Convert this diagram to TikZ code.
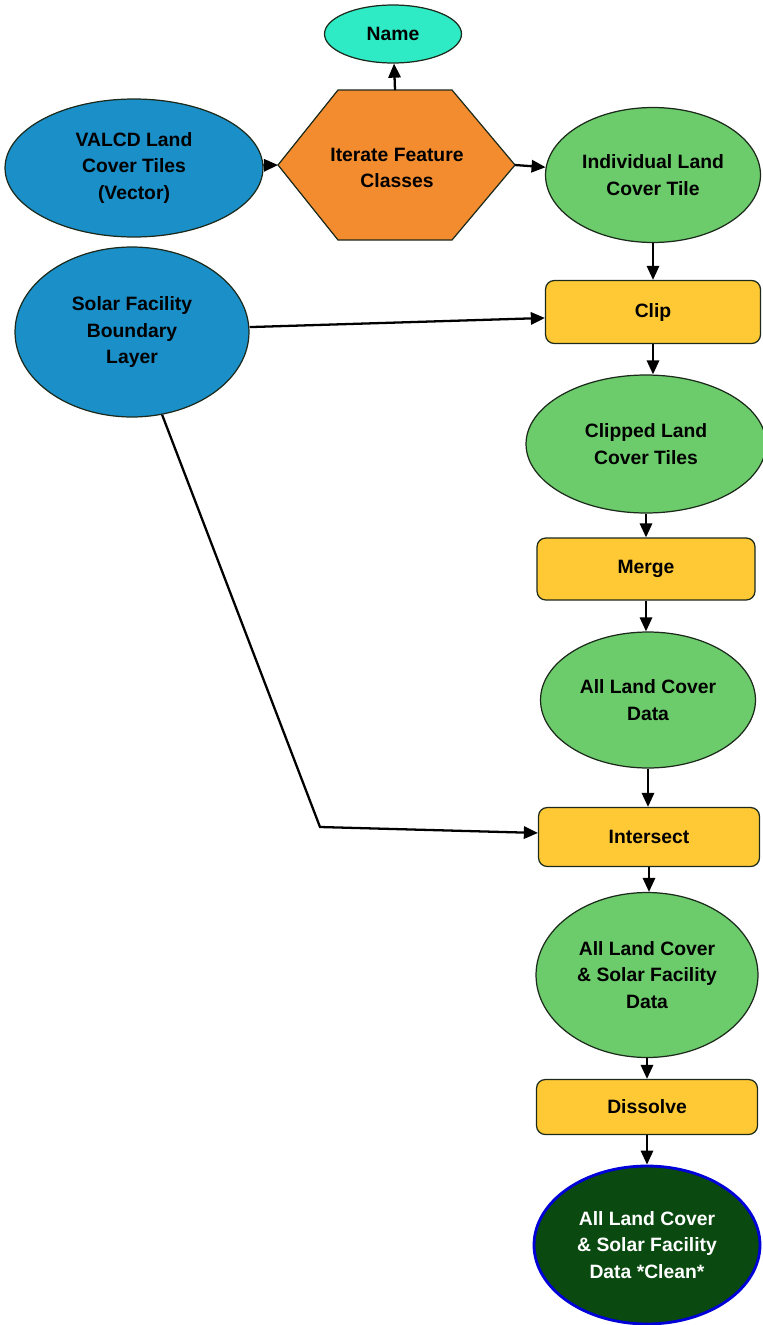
\documentclass[tikz,border=0pt]{standalone}
\usepackage{fontspec}
\setmainfont{Liberation Sans}
\usetikzlibrary{arrows.meta,positioning,shapes.geometric}
\definecolor{mdBlue}{HTML}{1A8FC8}
\definecolor{mdGreen}{HTML}{6CCB6A}
\definecolor{mdCyan}{HTML}{2EEBC6}
\definecolor{mdOrange}{HTML}{F38B2F}
\definecolor{mdYellow}{HTML}{FFC935}
\definecolor{mdDark}{HTML}{0A4A10}
\definecolor{mdEdge}{HTML}{1C2A1C}
\begin{document}
\begin{tikzpicture}[x=0.02cm, y=-0.02cm,
  dat/.style={ellipse, draw=mdEdge, line width=0.7pt, inner sep=0pt, align=center, font=\fontsize{11}{15}\selectfont\bfseries},
  inp/.style={dat, fill=mdBlue},
  mid/.style={dat, fill=mdGreen},
  tool/.style={rectangle, rounded corners=5pt, draw=mdEdge, line width=0.7pt, fill=mdYellow, inner sep=0pt, align=center, font=\fontsize{11}{15}\selectfont\bfseries},
  arr/.style={-{Triangle[length=8pt, width=7pt]}, line width=1.3pt, black}]
\useasboundingbox (0,0) rectangle (762,1325);
\node[dat, fill=mdCyan, minimum width=2.74cm, minimum height=1.16cm] (name) at (393,34) {Name};
\draw[mdEdge, line width=0.7pt, fill=mdOrange] (278,165) -- (338,90) -- (452,90) -- (515,165) -- (452,240) -- (338,240) -- cycle;
\coordinate (iterW) at (278,165);
\coordinate (iterE) at (515,165);
\coordinate (iterN) at (395,90);
\node[align=center, font=\fontsize{11}{15}\selectfont\bfseries] (iter) at (397,168) {Iterate Feature\\Classes};
\node[inp, minimum width=5.16cm, minimum height=2.76cm] (valcd) at (134,168) {VALCD Land\\Cover Tiles\\(Vector)};
\node[mid, minimum width=4.3cm, minimum height=2.7cm] (indiv) at (653,175) {Individual Land\\Cover Tile};
\node[inp, minimum width=4.68cm, minimum height=3.4cm] (solar) at (132,332) {Solar Facility\\Boundary\\Layer};
\node[tool, minimum width=4.3cm, minimum height=1.26cm] (clip) at (653,312) {Clip};
\node[mid, minimum width=4.8cm, minimum height=2.76cm] (clipped) at (646,444) {Clipped Land\\Cover Tiles};
\node[tool, minimum width=4.36cm, minimum height=1.24cm] (merge) at (646,569) {Merge};
\node[mid, minimum width=4.3cm, minimum height=2.72cm] (alllc) at (648,700) {All Land Cover\\Data};
\node[tool, minimum width=4.42cm, minimum height=1.18cm] (isect) at (649,837) {Intersect};
\node[mid, minimum width=4.44cm, minimum height=3.3cm] (lcsf) at (647,975) {All Land Cover\\\& Solar Facility\\Data};
\node[tool, minimum width=4.42cm, minimum height=1.1cm] (dissolve) at (647,1107) {Dissolve};
\node[dat, fill=mdDark, draw=blue!85!black, line width=1.6pt, text=white, minimum width=4.52cm, minimum height=3.16cm] (clean) at (647,1245) {All Land Cover\\\& Solar Facility\\Data *Clean*};
\coordinate (bend) at (320,827);
\draw[arr] (valcd) -- (iterW);
\draw[arr] (iterE) -- (indiv);
\draw[arr] (iterN) -- (name);
\draw[arr] ([yshift=2.8pt]solar.east) -- ([yshift=-3.4pt]clip.west);
\draw[arr] (solar.290) -- (bend) -- ([yshift=2.3pt]isect.west);
\foreach \a/\b in {indiv/clip,clip/clipped,clipped/merge,merge/alllc,alllc/isect,isect/lcsf,lcsf/dissolve,dissolve/clean}{\draw[arr] (\a.south) -- (\a.south |- \b.north);}
\end{tikzpicture}
\end{document}
